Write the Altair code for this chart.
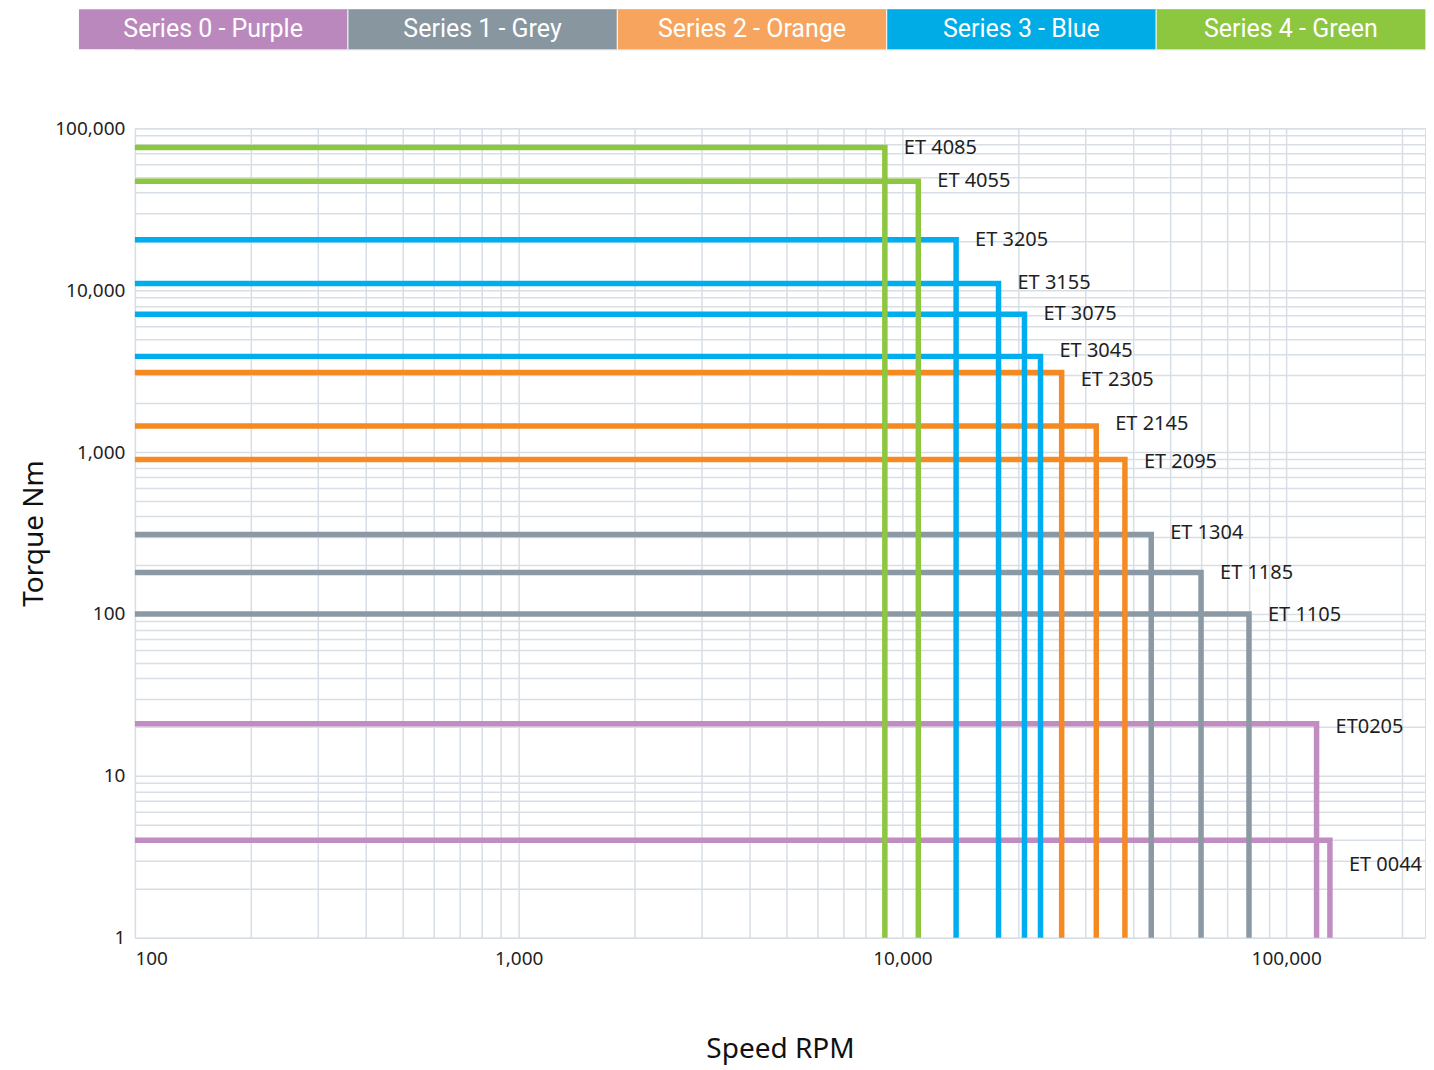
import altair as alt
import pandas as pd

# ---- data ----
legend_names = ["Series 0 - Purple", "Series 1 - Grey", "Series 2 - Orange", "Series 3 - Blue", "Series 4 - Green"]
legend_colors = ["#BB88BD", "#87969F", "#F7A45E", "#00ACE6", "#8DC63F"]
line_colors = ["#C08CC2", "#8A99A3", "#F68A22", "#00AEEF", "#8DC63F"]

models = ["ET 0044", "ET0205", "ET 1105", "ET 1185", "ET 1304", "ET 2095", "ET 2145",
          "ET 2305", "ET 3045", "ET 3075", "ET 3155", "ET 3205", "ET 4055", "ET 4085"]
model_series = [0, 0, 1, 1, 1, 2, 2, 2, 3, 3, 3, 3, 4, 4]
max_torque = [4, 21, 100, 180, 310, 900, 1450, 3100, 3900, 7100, 11000, 20500, 47000, 76000]
max_speed = [130000, 120000, 80000, 60000, 44500, 38000, 32000, 26000, 22900, 20800, 17800, 13800, 11000, 9000]
label_torque = [2.8, 20, 98, 178, 318, 870, 1480, 2800, 4200, 7100, 11000, 20500, 47000, 76000]

speed_min, speed_max = 100, 230000
torque_min, torque_max = 1, 100000
x_grid = [m * 10 ** k for k in range(2, 6) for m in range(1, 10)] + [200000]
y_grid = [m * 10 ** k for k in range(0, 5) for m in range(1, 10)] + [100000]

# ---- build tables ----
rows = []
for i, (mdl, s, t, v) in enumerate(zip(models, model_series, max_torque, max_speed)):
    pts = [(speed_min, t), (v, t), (v, torque_min)]
    for j, (x, y) in enumerate(pts):
        rows.append({"model": mdl, "series": legend_names[s], "speed": x, "torque": y,
                     "step": j, "rank": s * 100 + i})
lines_df = pd.DataFrame(rows).sort_values(["rank", "step"])

labels_df = pd.DataFrame({"model": models, "speed": max_speed, "torque": label_torque})
legend_df = pd.DataFrame({"name": legend_names})

FONT = "Noto Sans"
TXT = "#1f1f1f"
GRID = "#D7DEE6"

label_expr = ("abs(log(datum.value)/LN10 - round(log(datum.value)/LN10)) < 1e-6 "
              "? format(datum.value, ',') : ''")

xscale = alt.Scale(type="log", domain=[speed_min, speed_max], nice=False)
yscale = alt.Scale(type="log", domain=[torque_min, torque_max], nice=False)

xaxis = alt.Axis(values=x_grid, labelExpr=label_expr, grid=True, gridColor=GRID, gridWidth=1.5,
                 ticks=False, domain=False, labelFontSize=19, labelFont=FONT, labelColor=TXT,
                 labelPadding=12, labelOverlap=False, title="Speed RPM", titleFontSize=28,
                 titleFont=FONT, titleFontWeight="normal", titleColor="#111111", titlePadding=67)
yaxis = alt.Axis(values=y_grid, labelExpr=label_expr, grid=True, gridColor=GRID, gridWidth=1.5,
                 ticks=False, domain=False, labelFontSize=19, labelFont=FONT, labelColor=TXT,
                 labelPadding=10, labelOverlap=False, title="Torque Nm", titleFontSize=28,
                 titleFont=FONT, titleFontWeight="normal", titleColor="#111111", titlePadding=6)

lines = alt.Chart(lines_df).mark_line(strokeWidth=5.5, strokeCap="butt", strokeJoin="miter").encode(
    x=alt.X("speed:Q", scale=xscale, axis=xaxis),
    y=alt.Y("torque:Q", scale=yscale, axis=yaxis),
    color=alt.Color("series:N", scale=alt.Scale(domain=legend_names, range=line_colors), legend=None),
    detail="model:N",
    order="step:Q",
)

texts = alt.Chart(labels_df).mark_text(align="left", baseline="middle", dx=19, fontSize=20,
                                       font=FONT, color=TXT).encode(
    x=alt.X("speed:Q", scale=xscale),
    y=alt.Y("torque:Q", scale=yscale),
    text="model:N",
)

main = alt.layer(lines, texts).properties(width=1291, height=810)

lx = alt.X("name:N", sort=legend_names, axis=None,
           scale=alt.Scale(range=[-56, 1291], paddingInner=0.004, paddingOuter=0))
leg_rect = alt.Chart(legend_df).mark_rect().encode(
    x=lx,
    color=alt.Color("name:N", scale=alt.Scale(domain=legend_names, range=legend_colors), legend=None),
)
leg_text = alt.Chart(legend_df).mark_text(color="white", fontSize=25, font="Roboto",
                                          baseline="middle").encode(x=lx, text="name:N")
legend = alt.layer(leg_rect, leg_text).properties(width=1291, height=40)

chart = alt.vconcat(legend, main, spacing=68).resolve_scale(
    color="independent", x="independent", y="independent"
).properties(
    padding={"left": 12, "top": 0, "right": 0, "bottom": 0}
).configure_view(stroke=None).configure(background="white")

chart.save("out.html", embed_options={"renderer": "svg", "actions": False})
